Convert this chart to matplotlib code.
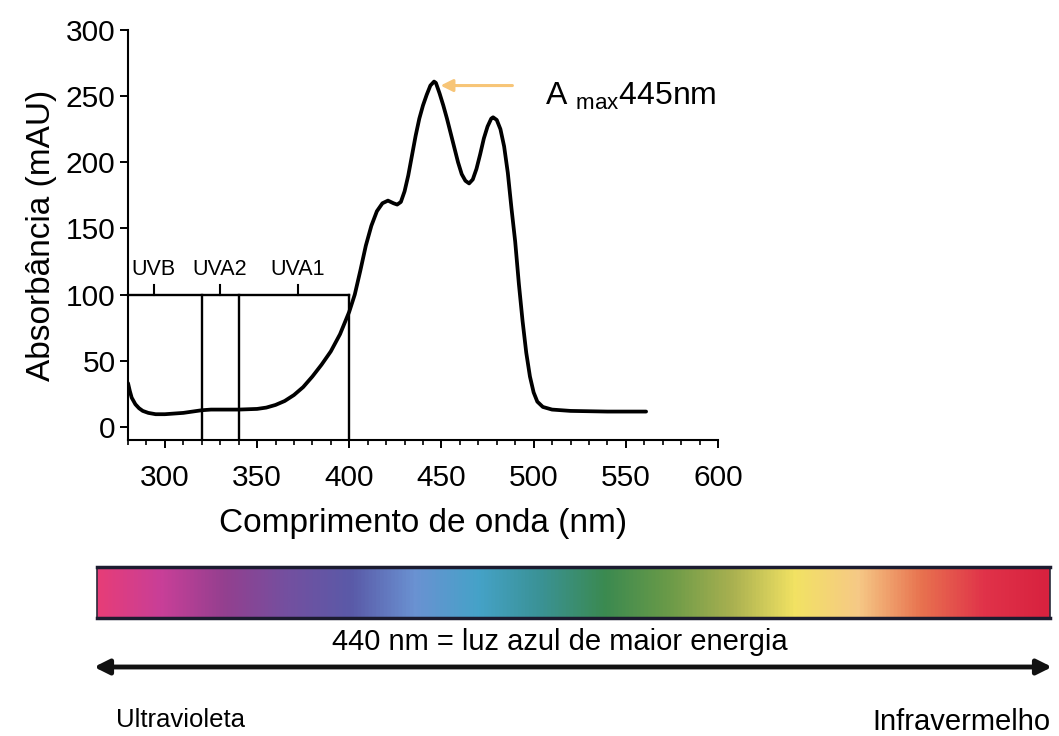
import numpy as np
import matplotlib
matplotlib.use("Agg")
import matplotlib.pyplot as plt
from matplotlib.colors import LinearSegmentedColormap

plt.rcParams['font.family'] = ['Liberation Sans', 'DejaVu Sans']
plt.rcParams['mathtext.fontset'] = 'custom'
plt.rcParams['mathtext.rm'] = 'Liberation Sans'

# absorption spectrum (nm, mAU)
wavelength = [280, 281, 282, 284, 286, 288, 291, 295, 300, 305, 310, 315, 320, 325,
              330, 340, 350, 355, 360, 365, 370, 375, 380, 385, 390, 395, 400,
              403, 406, 409, 412, 415, 418, 421, 424, 426, 428, 430, 432, 434,
              436, 438, 440, 442, 444, 446, 447, 449, 451, 453, 455, 457, 459,
              461, 463, 465, 467, 469, 471, 473, 475, 477, 478, 480, 482, 484,
              486, 488, 490, 492, 494, 496, 498, 500, 502, 505, 510, 520, 540, 561]
absorbance = [33, 27, 22, 17, 14, 12, 10.5, 9.5, 9.5, 10, 10.5, 11.5, 12.5, 13,
              13, 13, 13.5, 14.5, 16.5, 19.5, 24, 30, 38, 47, 57, 70, 87,
              100, 118, 137, 152, 163, 169, 171, 169, 168, 170, 178, 190, 205,
              220, 233, 243, 251, 258, 261, 260, 252, 243, 233, 222, 211, 200,
              191, 186, 184, 187, 195, 206, 218, 227, 233, 234, 232, 225, 212,
              192, 165, 140, 108, 80, 56, 38, 26, 19, 15, 13, 12, 11.5, 11.5]

# UV bands
band_edges = [320, 340, 400]
band_names = ['UVB', 'UVA2', 'UVA1']
band_centers = [294, 330, 372]
band_top = 100

# colours of the visible spectrum strip, left to right
strip_colors = ['#e63d78', '#c83f98', '#93408f', '#7350a0', '#5a5aa8', '#6a92d2',
                '#45a2c8', '#3a9294', '#3b8a50', '#6a9a48', '#a8b050', '#f2e263',
                '#f6c986', '#e8724f', '#e03249', '#d8223f']

fig = plt.figure(figsize=(10.59, 7.36), dpi=100)

ax = fig.add_axes([128/1059, 1 - 440/736, 590/1059, 410/736])
ax.plot(wavelength, absorbance, color='black', lw=2.7,
        solid_capstyle='round', solid_joinstyle='round')

# UV region box
ax.plot([280, band_edges[-1]], [band_top, band_top], color='black', lw=1.7, clip_on=False)
for xe in band_edges:
    ax.plot([xe, xe], [-10, band_top], color='black', lw=1.7)
for xc, name in zip(band_centers, band_names):
    ax.plot([xc, xc], [band_top, band_top + 7], color='black', lw=1.5)
    ax.text(xc, band_top + 19, name, ha='center', va='center', fontsize=15.5)

# peak arrow and label
ax.annotate('', xy=(448, 258), xytext=(490, 258),
            arrowprops=dict(arrowstyle='-|>', color='#f7c577', lw=2.2,
                            mutation_scale=18))
ax.text(506, 250, r'A $_{\rm max}$445nm', fontsize=23, va='center', ha='left')

ax.set_xlim(280, 600)
ax.set_ylim(-10, 300)
ax.spines['top'].set_visible(False)
ax.spines['right'].set_visible(False)
ax.spines['left'].set_linewidth(1.5)
ax.spines['bottom'].set_linewidth(1.5)
ax.set_yticks(np.arange(0, 301, 50))
ax.set_xticks(np.arange(300, 601, 50))
ax.set_xticks(np.arange(280, 601, 10), minor=True)
ax.tick_params(axis='both', which='major', labelsize=21.5, width=1.4, length=6, direction='out')
ax.tick_params(axis='x', which='minor', width=1.2, length=3.5, direction='out')
ax.tick_params(axis='x', pad=11)
ax.tick_params(axis='y', pad=3)
ax.set_xlabel('Comprimento de onda (nm)', fontsize=24, labelpad=12)
ax.set_ylabel('Absorbância (mAU)', fontsize=24, labelpad=6)

# visible spectrum strip
sax = fig.add_axes([97/1059, 1 - 618/736, 953/1059, 51/736])
cmap = LinearSegmentedColormap.from_list('spec', strip_colors)
sax.imshow(np.linspace(0, 1, 512)[None, :], aspect='auto', cmap=cmap, extent=[0, 1, 0, 1])
sax.set_xticks([])
sax.set_yticks([])
for side in ['top', 'bottom']:
    sax.spines[side].set_linewidth(2.5)
    sax.spines[side].set_color('#1c1c30')
for side in ['left', 'right']:
    sax.spines[side].set_linewidth(1.2)
    sax.spines[side].set_color('#2a2a3a')

# energy arrow and captions
oax = fig.add_axes([0, 0, 1, 1], zorder=-1)
oax.set_xlim(0, 1059)
oax.set_ylim(736, 0)
oax.axis('off')
oax.annotate('', xy=(94, 667), xytext=(1052, 667),
             arrowprops=dict(arrowstyle='<|-|>', color='#111111', lw=3.5,
                             mutation_scale=22, shrinkA=0, shrinkB=0))
oax.text(560, 642, '440 nm = luz azul de maior energia', fontsize=21,
         ha='center', va='center')
oax.text(180, 720, 'Ultravioleta', fontsize=18.5, ha='center', va='center')
oax.text(961, 722, 'Infravermelho', fontsize=21, ha='center', va='center')

fig.savefig('out.png', dpi=100)
